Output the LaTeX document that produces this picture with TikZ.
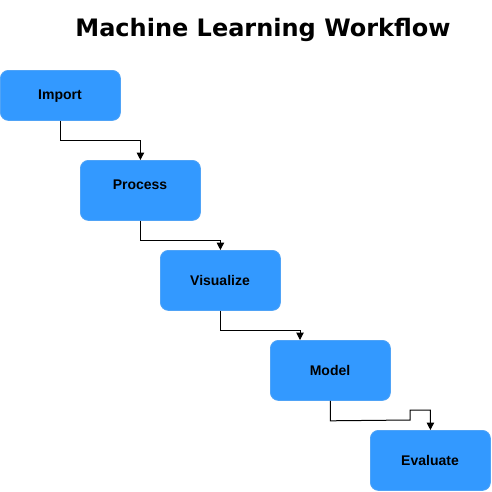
\documentclass[tikz,border=0pt]{standalone}
\usepackage{fontspec}
\setmainfont{Liberation Sans}
\newfontfamily\titlefont{DejaVu Sans}
\usetikzlibrary{arrows.meta}
\definecolor{boxblue}{HTML}{3399FF}
\definecolor{boxedge}{HTML}{4FA3F7}
\tikzset{
  stagebox/.style={draw=boxedge, fill=boxblue, rounded corners=8pt, line width=0.8pt,
    minimum width=120pt, minimum height=60pt, inner sep=0pt, anchor=north west},
  stagelabel/.style={font=\fontsize{14pt}{16pt}\selectfont\bfseries},
  flow/.style={draw=black, line width=1pt, -{Triangle[length=7.5pt,width=7.5pt]}},
}
\begin{document}
\begin{tikzpicture}[x=1pt,y=-1pt]
\useasboundingbox (0,0) rectangle (492,491);
\node[font=\titlefont\fontsize{24pt}{27pt}\selectfont\bfseries] (title) at (263,30) {Machine Learning Workflow};
\node[stagebox, minimum height=50pt] (import) at (0,70) {};
\node[stagelabel] (importlabel) at (60,96) {Import};
\node[stagebox] (process) at (80,160) {};
\node[stagelabel] (processlabel) at (140,185) {Process};
\node[stagebox] (visualize) at (160,250) {};
\node[stagelabel] (visualizelabel) at (220,280) {Visualize};
\node[stagebox] (model) at (270,340) {};
\node[stagelabel] (modellabel) at (330,370) {Model};
\node[stagebox] (evaluate) at (370,430) {};
\node[stagelabel] (evaluatelabel) at (430,460) {Evaluate};
\coordinate (modelin) at (300,340);
\draw[flow] (import.south) -- ++(0,20) -| (process.north);
\draw[flow] (process.south) -- ++(0,20) -| (visualize.north);
\draw[flow] (visualize.south) -- ++(0,20) -| (modelin);
\draw[flow] (model.south) -- ++(0,20) -- (410,420) -- (410,410) -| (evaluate.north);
\end{tikzpicture}
\end{document}
